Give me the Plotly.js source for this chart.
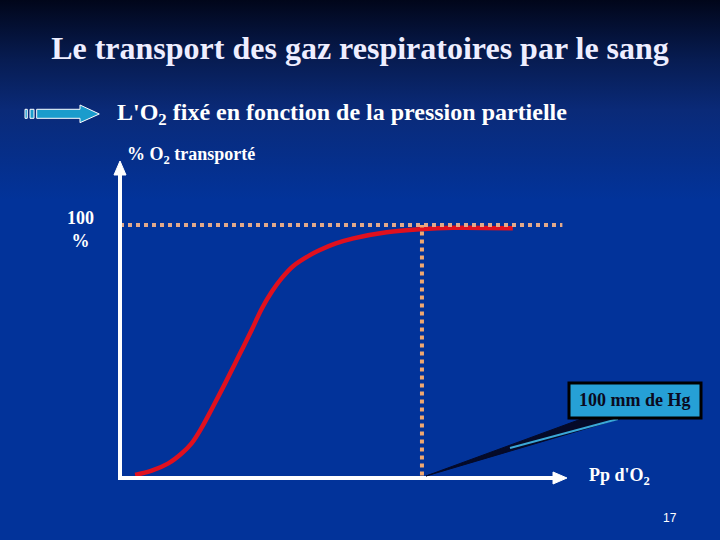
<!DOCTYPE html>
<html>
<head>
<meta charset="utf-8">
<script src="https://cdn.plot.ly/plotly-3.0.1.min.js"></script>
<style>
html,body{margin:0;padding:0;width:720px;height:540px;overflow:hidden;}
body{background:linear-gradient(to bottom,#01061a 0px,#071c52 60px,#0a2a78 110px,#02339a 200px,#02339a 540px);}
#chart{width:720px;height:540px;}
</style>
</head>
<body>
<div id="chart"></div>
<script>
// Data: oxygen dissociation curve (% O2 transported vs PO2 in mm Hg)
const pressure = [5.0, 10.5, 16.0, 20.4, 23.7, 27.1, 30.4, 34.8, 39.2, 43.6, 46.9, 50.2, 53.5, 57.4, 62.9, 66.2, 71.5, 77.3, 88.3, 99.3, 110.3, 130.1];
const saturation = [1.2, 2.9, 5.8, 9.7, 13.7, 20.0, 27.3, 37.4, 47.9, 58.5, 66.8, 73.5, 78.9, 83.8, 88.1, 90.1, 92.7, 94.7, 97.1, 98.3, 98.9, 98.7];
const refPressure = 100;   // mm Hg
const refSaturation = 100; // %
const xMax = 147.7;
const yMax = 124.9;

// pixel -> paper helpers (layout positioning)
const L = 120, R = 566, T = 162, B = 478;
const px = v => (v - L) / (R - L);
const py = v => (B - v) / (B - T);
const pathOf = pts => 'M' + pts.map(([x, y]) => px(x).toFixed(4) + ',' + py(y).toFixed(4)).join(' L') + ' Z';

const traces = [{
  x: pressure, y: saturation, type: 'scatter', mode: 'lines',
  line: {color: '#e0101e', width: 4.5, shape: 'spline', smoothing: 1},
  hoverinfo: 'skip'
}];

const serif = 'Liberation Serif, Times New Roman, serif';

const layout = {
  width: 720, height: 540,
  margin: {l: L, r: 720 - R, t: T, b: 540 - B, pad: 0},
  paper_bgcolor: 'rgba(0,0,0,0)',
  plot_bgcolor: 'rgba(0,0,0,0)',
  showlegend: false,
  xaxis: {range: [0, xMax], visible: false, fixedrange: true},
  yaxis: {range: [0, yMax], visible: false, fixedrange: true},
  title: {
    text: '<b>Le transport des gaz respiratoires par le sang</b>',
    font: {family: serif, size: 32, color: '#eeeeff'},
    x: 0.5, xanchor: 'center', y: 1 - 48 / 540, yanchor: 'middle', yref: 'container'
  },
  shapes: [
    // dotted reference lines
    {type: 'line', xref: 'x', yref: 'y', x0: 0, x1: 146.5, y0: refSaturation, y1: refSaturation,
     line: {color: '#e2a98a', width: 4, dash: 'dot'}},
    {type: 'line', xref: 'x', yref: 'y', x0: refPressure, x1: refPressure, y0: 1, y1: refSaturation,
     line: {color: '#f0a870', width: 4, dash: 'dot'}},
    // axes with arrowheads
    {type: 'line', xref: 'paper', yref: 'paper', x0: px(120), y0: py(480), x1: px(120), y1: py(172),
     line: {color: '#ffffff', width: 4}},
    {type: 'path', xref: 'paper', yref: 'paper', path: pathOf([[114, 175], [126, 175], [120, 161]]),
     fillcolor: '#ffffff', line: {color: '#ffffff', width: 1}},
    {type: 'line', xref: 'paper', yref: 'paper', x0: px(118), y0: py(478), x1: px(556), y1: py(478),
     line: {color: '#ffffff', width: 4}},
    {type: 'path', xref: 'paper', yref: 'paper', path: pathOf([[553, 472], [553, 484], [567, 478]]),
     fillcolor: '#ffffff', line: {color: '#ffffff', width: 1}},
    // callout wedge
    {type: 'path', xref: 'paper', yref: 'paper', path: pathOf([[584, 418], [622, 418], [426, 476]]),
     fillcolor: '#050a28', line: {color: '#050a28', width: 1}},
    {type: 'line', xref: 'paper', yref: 'paper', x0: px(618), y0: py(419), x1: px(510), y1: py(448),
     line: {color: '#3aa8d8', width: 2}},
    // callout box
    {type: 'rect', xref: 'paper', yref: 'paper', x0: px(569), x1: px(701), y0: py(418), y1: py(383),
     fillcolor: '#26a0d6', line: {color: '#000000', width: 3}},
    // decorative arrow icon
    {type: 'rect', xref: 'paper', yref: 'paper', x0: px(25), x1: px(27.3), y0: py(118.3), y1: py(109.3),
     fillcolor: '#1a9ccc', line: {color: '#ffffff', width: 1}},
    {type: 'rect', xref: 'paper', yref: 'paper', x0: px(30), x1: px(34), y0: py(118.3), y1: py(109.3),
     fillcolor: '#1a9ccc', line: {color: '#ffffff', width: 1}},
    {type: 'path', xref: 'paper', yref: 'paper',
     path: pathOf([[36.7, 109.3], [80, 109.3], [80, 105], [99.3, 114], [80, 122.7], [80, 118.3], [36.7, 118.3]]),
     fillcolor: '#1a9ccc', line: {color: '#ffffff', width: 1}}
  ],
  annotations: [
    {xref: 'paper', yref: 'paper', x: px(115), y: py(114), xanchor: 'left', yanchor: 'middle', showarrow: false,
     text: "<b>L'O<sub>2</sub> fixé en fonction de la pression partielle</b>",
     font: {family: serif, size: 24, color: '#ffffff'}},
    {xref: 'paper', yref: 'paper', x: px(125), y: py(156), xanchor: 'left', yanchor: 'middle', showarrow: false,
     text: '<b>% O<sub>2</sub> transporté</b>', font: {family: serif, size: 18, color: '#ffffff'}},
    {xref: 'paper', yref: 'paper', x: px(80), y: py(229), xanchor: 'center', yanchor: 'middle', showarrow: false,
     text: '<b>100</b><br><b>%</b>', font: {family: serif, size: 18, color: '#ffffff'}},
    {xref: 'paper', yref: 'paper', x: px(635), y: py(400), xanchor: 'center', yanchor: 'middle', showarrow: false,
     text: '<b>100 mm de Hg</b>', font: {family: serif, size: 18, color: '#0a0a20'}},
    {xref: 'paper', yref: 'paper', x: px(587), y: py(476), xanchor: 'left', yanchor: 'middle', showarrow: false,
     text: "<b>Pp d'O<sub>2</sub></b>", font: {family: serif, size: 18, color: '#ffffff'}},
    {xref: 'paper', yref: 'paper', x: px(670), y: py(518), xanchor: 'center', yanchor: 'middle', showarrow: false,
     text: '17', font: {family: 'Liberation Sans, Arial, sans-serif', size: 12, color: '#ffffff'}}
  ]
};

Plotly.newPlot('chart', traces, layout, {staticPlot: true, displayModeBar: false});
</script>
</body>
</html>
